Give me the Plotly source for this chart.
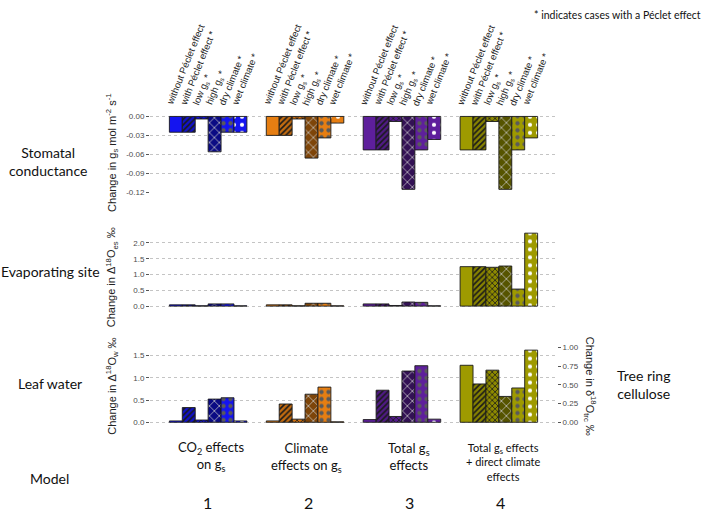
import plotly.graph_objects as go
import numpy as np

# ---------------- data ----------------
models = [1, 2, 3, 4]
model_numbers = ["1", "2", "3", "4"]
model_names = [
    "CO<sub>2</sub> effects<br>on g<sub>s</sub>",
    "Climate<br>effects on g<sub>s</sub>",
    "Total g<sub>s</sub><br>effects",
    "Total g<sub>s</sub> effects<br>+ direct climate<br>effects",
]
scenarios = [
    "without Péclet effect",
    "with Péclet effect *",
    "low g<sub>s</sub> *",
    "high g<sub>s</sub> *",
    "dry climate *",
    "wet climate *",
]
model_colors = ["#1414F0", "#E67E12", "#5E1F9C", "#9E9A00"]

# values: one row per model, one column per scenario
stomatal_conductance = [
    [-0.025, -0.025, -0.004, -0.056, -0.025, -0.025],
    [-0.030, -0.030, -0.004, -0.066, -0.034, -0.0105],
    [-0.053, -0.053, -0.008, -0.1155, -0.053, -0.0365],
    [-0.053, -0.053, -0.008, -0.1155, -0.053, -0.034],
]
evaporating_site = [
    [0.04, 0.04, 0.01, 0.07, 0.07, 0.01],
    [0.04, 0.04, 0.01, 0.09, 0.09, 0.01],
    [0.07, 0.07, 0.02, 0.13, 0.12, 0.01],
    [1.25, 1.25, 1.23, 1.27, 0.54, 2.31],
]
leaf_water = [
    [0.03, 0.33, 0.05, 0.52, 0.55, 0.03],
    [0.03, 0.41, 0.07, 0.63, 0.79, 0.01],
    [0.06, 0.72, 0.13, 1.15, 1.27, 0.07],
    [1.28, 0.86, 1.17, 0.58, 0.77, 1.62],
]

gs_ticks = [0.0, -0.03, -0.06, -0.09, -0.12]
gs_ticktext = ["0.00", "-0.03", "-0.06", "-0.09", "-0.12"]
es_ticks = [0.0, 0.5, 1.0, 1.5, 2.0]
es_ticktext = ["0.0", "0.5", "1.0", "1.5", "2.0"]
lw_ticks = [0.0, 0.5, 1.0, 1.5]
lw_ticktext = ["0.0", "0.5", "1.0", "1.5"]
trc_ticks = [0.0, 0.25, 0.5, 0.75, 1.0]
trc_ticktext = ["0.00", "0.25", "0.50", "0.75", "1.00"]
trc_factor = 1.678  # leaf-water units per tree-ring-cellulose unit

# ---------------- styling ----------------
W, H = 709, 515


def px(x):
    return x / W


def py(y):
    return 1 - y / H


def darken(hexc, f):
    h = hexc.lstrip("#")
    r, g, b = (int(h[i:i + 2], 16) for i in (0, 2, 4))
    return "#%02x%02x%02x" % (int(r * f), int(g * f), int(b * f))


scenario_style = [
    dict(shape="", fg="#000000", size=8, sol=0.3, dark=1.0),
    dict(shape="/", fg="#1a1a1a", size=4, sol=0.4, dark=0.85),
    dict(shape="x", fg="#1a1a1a", size=4, sol=0.35, dark=0.9),
    dict(shape="x", fg="#c8c8c8", size=7, sol=0.2, dark=0.55),
    dict(shape=".", fg="#5a5a5a", size=7, sol=0.3, dark=1.0),
    dict(shape=".", fg="#ffffff", size=8, sol=0.22, dark=1.0),
]

group_width = 0.8
bar_w = group_width / len(scenarios)

fig = go.Figure()
panels = [stomatal_conductance, evaporating_site, leaf_water]
for p, data in enumerate(panels):
    xa = "x" if p == 0 else f"x{p + 1}"
    ya = "y" if p == 0 else f"y{p + 1}"
    for m, model in enumerate(models):
        for j, sc in enumerate(scenarios):
            st = scenario_style[j]
            col = darken(model_colors[m], st["dark"])
            pattern = dict(shape=st["shape"], fgcolor=st["fg"], bgcolor=col,
                           size=st["size"], solidity=st["sol"],
                           fillmode="replace", fgopacity=1)
            fig.add_trace(go.Bar(
                x=[model], y=[data[m][j]], width=bar_w,
                offset=-group_width / 2 + j * bar_w,
                xaxis=xa, yaxis=ya, name=sc, showlegend=False,
                marker=dict(color=col, line=dict(color="#1a1a1a", width=0.9),
                            pattern=pattern),
            ))

# invisible carrier so the secondary (tree ring cellulose) axis is drawn
fig.add_trace(go.Scatter(x=[models[0]], y=[trc_ticks[0]], xaxis="x3", yaxis="y4",
                         mode="markers", marker=dict(opacity=0), hoverinfo="skip",
                         showlegend=False))

xdom = [px(150), px(557)]
tickfont = dict(family="Liberation Sans, Arial", size=8, color="#4d4d4d")
common_y = dict(gridcolor="#c4c4c4", griddash="dot", gridwidth=1,
                zeroline=False, showline=False, ticks="outside", ticklen=3,
                tickcolor="#555555", tickfont=tickfont, fixedrange=True)
common_x = dict(domain=xdom, range=[0.4, 4.6], visible=False, fixedrange=True)

fig.update_layout(
    width=W, height=H, margin=dict(l=0, r=0, t=0, b=0),
    paper_bgcolor="white", plot_bgcolor="white",
    barmode="overlay",
    xaxis=dict(**common_x, anchor="y"),
    xaxis2=dict(**common_x, anchor="y2"),
    xaxis3=dict(**common_x, anchor="y3"),
    yaxis=dict(**common_y, showgrid=True, anchor="x", domain=[py(192.7), py(111.3)],
               range=[-0.1214, 0.0058], tickvals=gs_ticks, ticktext=gs_ticktext),
    yaxis2=dict(**common_y, showgrid=True, anchor="x2", domain=[py(311), py(229.5)],
                range=[-0.1155, 2.43], tickvals=es_ticks, ticktext=es_ticktext),
    yaxis3=dict(**common_y, showgrid=True, anchor="x3", domain=[py(428.7), py(348.3)],
                range=[-0.081, 1.70], tickvals=lw_ticks, ticktext=lw_ticktext),
    yaxis4=dict(**common_y, showgrid=False, overlaying="y3", side="right", anchor="x3",
                range=[-0.081 / trc_factor, 1.70 / trc_factor],
                tickvals=trc_ticks, ticktext=trc_ticktext),
)

ann = []
txt = "Lato, Liberation Sans, Arial"


def label(x, y, t, size, family=txt, angle=0, color="#111111", xanchor="center"):
    return dict(x=px(x), y=py(y), xref="paper", yref="paper", text=t,
                showarrow=False, textangle=angle, xanchor=xanchor, yanchor="middle",
                font=dict(family=family, size=size, color=color))


# rotated scenario labels above each bar
for m in models:
    for j, sc in enumerate(scenarios):
        ann.append(dict(x=m - group_width / 2 + (j + 0.5) * bar_w, y=py(108),
                        xref="x", yref="paper",
                        text=sc, showarrow=False, textangle=-68,
                        xanchor="left", yanchor="bottom", xshift=-14,
                        font=dict(family="Liberation Sans, Arial", size=9.5, color="#222222")))

# note
ann.append(label(703, 12, "* indicates cases with a Péclet effect", 10.5, xanchor="right"))

# row labels
ann.append(label(48, 161, "Stomatal<br>conductance", 14))
ann.append(label(50, 272, "Evaporating site", 14))
ann.append(label(50, 386, "Leaf water", 14))
ann.append(label(49, 482, "Model", 14))
ann.append(label(643, 387, "Tree ring<br>cellulose", 14))

# axis titles
af = "Liberation Sans, Arial"
ann.append(label(112, 152, "Change in g<sub>s</sub> mol m<sup>-2</sup> s<sup>-1</sup>", 11, af, -90, "#222222"))
ann.append(label(112, 278, "Change in Δ<sup>18</sup>O<sub>es</sub> ‰", 11, af, -90, "#222222"))
ann.append(label(112, 389, "Change in Δ<sup>18</sup>O<sub>w</sub> ‰", 11, af, -90, "#222222"))
ann.append(label(590, 388, "Change in δ<sup>18</sup>O<sub>trc</sub> ‰", 11, af, 90, "#222222"))

# model names and numbers
name_pos = [(211, 460, 13), (306, 461, 13), (409, 460, 13), (503, 465, 11)]
for (x, y, s), t in zip(name_pos, model_names):
    ann.append(label(x, y, t, s))
num_x = [207, 308, 409, 500]
for x, t in zip(num_x, model_numbers):
    ann.append(label(x, 506, t, 16))

fig.update_layout(annotations=ann)
fig.write_html("out.html")
